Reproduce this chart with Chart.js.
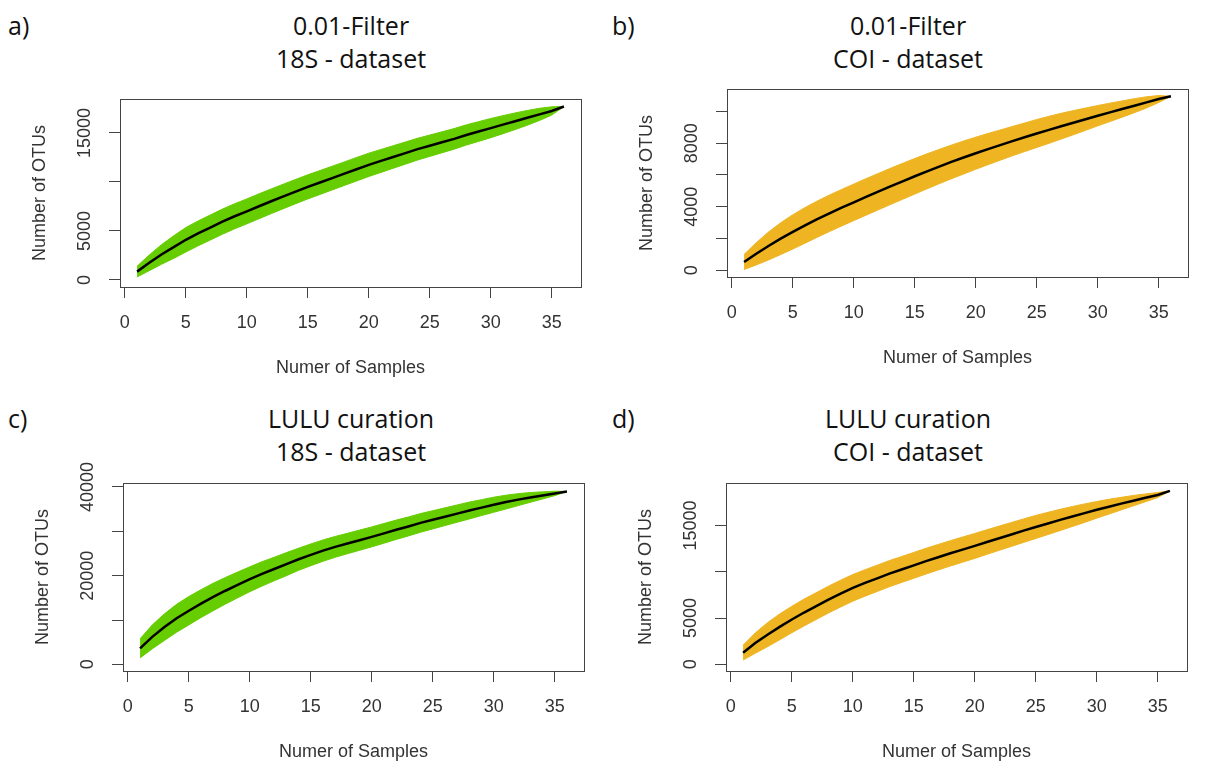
<!DOCTYPE html>
<html>
<head>
<meta charset="utf-8">
<script src="https://cdn.jsdelivr.net/npm/chart.js@4.4.1/dist/chart.umd.min.js"></script>
<style>
body { margin:0; width:1225px; height:782px; overflow:hidden; background:#fff; position:relative; font-family:"Open Sans", sans-serif; }
.title { position:absolute; width:400px; font-size:25px; line-height:33px; text-align:center; color:#111; }
.tag { position:absolute; font-size:25px; line-height:33px; color:#111; }
canvas { position:absolute; }
</style>
</head>
<body>
<div class="tag" style="left:8px;top:9px">a)</div>
<div class="title" style="left:151px;top:9px">0.01-Filter<br>18S - dataset</div>
<div class="tag" style="left:612px;top:9px">b)</div>
<div class="title" style="left:708px;top:9px">0.01-Filter<br>COI - dataset</div>
<div class="tag" style="left:8px;top:402px">c)</div>
<div class="title" style="left:151px;top:402px">LULU curation<br>18S - dataset</div>
<div class="tag" style="left:612px;top:402px">d)</div>
<div class="title" style="left:708px;top:402px">LULU curation<br>COI - dataset</div>

<canvas id="chartA" width="600" height="341" style="left:0px;top:59px"></canvas>
<canvas id="chartB" width="600" height="341" style="left:607px;top:49px"></canvas>
<canvas id="chartC" width="600" height="341" style="left:3px;top:443px"></canvas>
<canvas id="chartD" width="600" height="341" style="left:606px;top:443px"></canvas>

<script>
// number of samples (x axis)
const samples = [1,2,3,4,5,6,7,8,9,10,11,12,13,14,15,16,17,18,19,20,21,22,23,24,25,26,27,28,29,30,31,32,33,34,35,36];
const xTicks = [0,5,10,15,20,25,30,35];

// a) 0.01-Filter, 18S
const filter18sMean = [850,1750,2600,3350,4100,4750,5350,5950,6500,7000,7520,8030,8530,9020,9500,9950,10400,10850,11300,11750,12150,12550,12950,13350,13700,14050,14400,14800,15150,15500,15850,16200,16550,16900,17250,17700];
const filter18sSd = [550,800,1000,1150,1250,1270,1280,1280,1280,1275,1270,1260,1250,1240,1230,1220,1210,1200,1200,1190,1170,1150,1130,1110,1090,1070,1050,1030,1010,980,920,850,750,620,420,0];
const filter18sTicks = [0,5000,10000,15000];
const filter18sLabels = ["0","5000","","15000"];

// b) 0.01-Filter, COI
const filterCoiMean = [525,1040,1530,1990,2420,2830,3220,3590,3940,4280,4620,4950,5280,5600,5920,6230,6530,6820,7100,7370,7630,7880,8130,8370,8610,8840,9070,9290,9510,9730,9940,10150,10360,10570,10780,10950];
const filterCoiSd = [475,700,880,1000,1080,1120,1140,1150,1150,1150,1150,1145,1140,1130,1120,1100,1080,1060,1040,1010,980,950,925,900,880,850,810,760,700,640,580,510,440,350,220,0];
const filterCoiTicks = [0,2000,4000,6000,8000,10000];
const filterCoiLabels = ["0","","4000","","8000",""];

// c) LULU curation, 18S
const lulu18sMean = [3600,6200,8400,10400,12100,13700,15200,16600,17900,19200,20400,21500,22600,23700,24700,25650,26500,27250,28000,28750,29550,30350,31100,31900,32600,33300,34000,34700,35350,36000,36600,37150,37650,38100,38550,39000];
const lulu18sSd = [2150,2700,3000,3150,3200,3150,3100,3000,2900,2800,2750,2650,2600,2500,2450,2400,2350,2300,2280,2250,2220,2180,2140,2100,2050,2000,1950,1900,1800,1700,1550,1350,1100,800,500,0];
const lulu18sTicks = [0,10000,20000,30000,40000];
const lulu18sLabels = ["0","","20000","","40000"];

// d) LULU curation, COI
const luluCoiMean = [1260,2300,3200,4050,4850,5600,6300,7000,7650,8270,8800,9300,9800,10250,10700,11150,11580,12000,12400,12800,13220,13630,14040,14450,14850,15230,15610,15980,16340,16700,17040,17370,17690,18000,18300,18750];
const luluCoiSd = [800,1100,1300,1400,1430,1450,1450,1450,1450,1440,1430,1420,1410,1400,1400,1390,1380,1370,1360,1350,1330,1310,1290,1270,1250,1200,1150,1080,1000,900,800,680,560,420,280,0];
const luluCoiTicks = [0,5000,10000,15000];
const luluCoiLabels = ["0","5000","","15000"];

const green = "#66CD00";
const gold = "#EEB422";
const axisFont = { family: "Liberation Sans", size: 18 };
const inkColor = "#333";

const boxPlugin = {
    id: "box",
    afterDatasetsDraw(chart){
        let a = chart.chartArea;
        let ctx = chart.ctx;
        ctx.save();
        ctx.strokeStyle = "#444";
        ctx.lineWidth = 1;
        ctx.strokeRect(Math.round(a.left) + 0.5, Math.round(a.top) + 0.5, Math.round(a.right - a.left), Math.round(a.bottom - a.top));
        ctx.restore();
    }
};

function labelWidth(labels){
    let c = document.createElement("canvas").getContext("2d");
    c.font = "18px 'Liberation Sans'";
    let w = 0;
    labels.forEach(l => { w = Math.max(w, c.measureText(l).width); });
    return w;
}

function makePanel(id, mean, sd, color, yMin, yMax, yTicks, yLabels){

    let pts = arr => samples.map((s, i) => ({ x: s, y: arr[i] }));
    let upper = mean.map((m, i) => m + sd[i]);
    let lower = mean.map((m, i) => m - sd[i]);

    // R style: rotated labels centred ~34px left of the box
    let yPad = 34.5 - 11 - labelWidth(yLabels) / 2;

    new Chart(document.getElementById(id), {
        type: "line",
        data: {
            datasets: [
                { data: pts(mean), borderColor: "#000", borderWidth: 2.5, pointRadius: 0, fill: false },
                { data: pts(upper), borderColor: color, backgroundColor: color, borderWidth: 1, pointRadius: 0, fill: "+1" },
                { data: pts(lower), borderColor: color, borderWidth: 1, pointRadius: 0, fill: false }
            ]
        },
        options: {
            responsive: false,
            animation: false,
            devicePixelRatio: 1,
            layout: { padding: { left: 0, right: 19, top: 40, bottom: 0 } },
            plugins: { legend: { display: false }, tooltip: { enabled: false } },
            scales: {
                x: {
                    type: "linear",
                    min: -0.4,
                    max: 37.4,
                    afterBuildTicks: s => { s.ticks = xTicks.map(v => ({ value: v })); },
                    afterFit: s => { s.height = 113; },
                    border: { display: false },
                    grid: { drawOnChartArea: false, drawTicks: true, tickLength: 11, color: "#444" },
                    ticks: { autoSkip: false, maxRotation: 0, padding: 14, font: axisFont, color: inkColor },
                    title: { display: true, text: "Numer of Samples", font: axisFont, color: inkColor, padding: { top: 0, bottom: 21 } }
                },
                y: {
                    type: "linear",
                    min: yMin,
                    max: yMax,
                    afterBuildTicks: s => { s.ticks = yTicks.map(v => ({ value: v })); },
                    afterFit: s => { s.width = 120; },
                    border: { display: false },
                    grid: { drawOnChartArea: false, drawTicks: true, tickLength: 11, color: "#444" },
                    ticks: {
                        autoSkip: false,
                        minRotation: 90,
                        maxRotation: 90,
                        crossAlign: "center",
                        padding: yPad,
                        font: axisFont,
                        color: inkColor,
                        callback: v => yLabels[yTicks.indexOf(v)]
                    },
                    title: { display: true, text: "Number of OTUs", font: axisFont, color: inkColor, padding: { top: 29, bottom: 0 } }
                }
            }
        },
        plugins: [boxPlugin]
    });
}

makePanel("chartA", filter18sMean, filter18sSd, green, -720, 18470, filter18sTicks, filter18sLabels);
makePanel("chartB", filterCoiMean, filterCoiSd, gold, -420, 11410, filterCoiTicks, filterCoiLabels);
makePanel("chartC", lulu18sMean, lulu18sSd, green, -1500, 40900, lulu18sTicks, lulu18sLabels);
makePanel("chartD", luluCoiMean, luluCoiSd, gold, -720, 19600, luluCoiTicks, luluCoiLabels);
</script>
</body>
</html>
